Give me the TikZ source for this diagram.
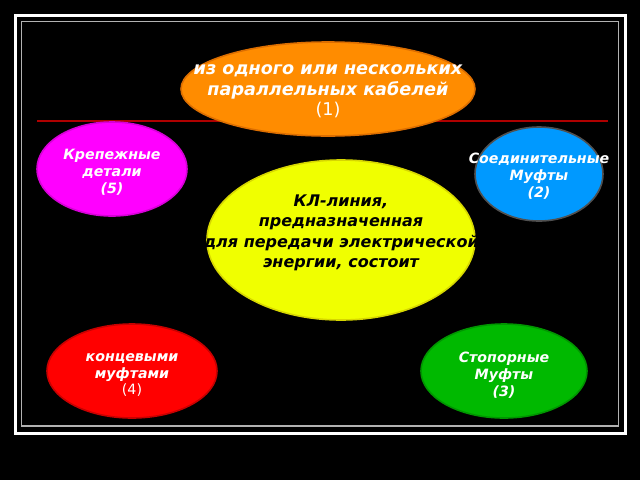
\documentclass[tikz,border=0pt]{standalone}
\usepackage{fontspec}
\setmainfont{DejaVu Sans}
\usetikzlibrary{shapes.geometric}
\definecolor{rulered}{RGB}{175,0,0}
\tikzset{
  blob/.style={ellipse, inner sep=0pt, line width=1.6pt},
  wtxt/.style={text=white, align=center, font=\bfseries\itshape\fontsize{14.2}{16.8}\selectfont},
  btxt/.style={text=black, align=center, font=\bfseries\itshape\fontsize{16}{20.5}\selectfont},
}
\newcommand{\plainnum}[1]{{\normalfont\mdseries\upshape #1}}
\begin{document}
\begin{tikzpicture}[x=1pt,y=-1pt]
\fill[black] (0,0) rectangle (640,480);
\useasboundingbox (0,0) rectangle (640,480);
% frame
\draw[white, line width=3pt] (15.5,15.5) rectangle (625.5,433);
\draw[gray!60!white, line width=1.5pt] (21.5,21.5) rectangle (618.5,426);
% red rule
\draw[draw=rulered, line width=1.2pt] (37,121) -- (608,121);

% ellipses
\node[blob, fill={rgb,255:red,255;green,140;blue,0}, draw={rgb,255:red,220;green,110;blue,0}, minimum width=294pt, minimum height=94pt] (orange) at (328,89) {};
\node[blob, fill={rgb,255:red,255;green,0;blue,255}, draw={rgb,255:red,215;green,0;blue,215}, minimum width=150pt, minimum height=94pt] (magenta) at (112,169) {};
\node[blob, fill={rgb,255:red,0;green,153;blue,255}, draw={rgb,255:red,80;green,80;blue,80}, minimum width=128pt, minimum height=94pt] (blue) at (539,174) {};
\node[blob, fill={rgb,255:red,240;green,255;blue,0}, draw={rgb,255:red,215;green,215;blue,0}, minimum width=268pt, minimum height=160pt] (yellow) at (341,240) {};
\node[blob, fill={rgb,255:red,255;green,0;blue,0}, draw={rgb,255:red,200;green,0;blue,0}, minimum width=170pt, minimum height=94pt] (redb) at (132,371) {};
\node[blob, fill={rgb,255:red,0;green,185;blue,0}, draw={rgb,255:red,0;green,150;blue,0}, minimum width=166pt, minimum height=94pt] (green) at (504,371) {};

% texts
\node[wtxt, font=\bfseries\itshape\fontsize{17.6}{20.5}\selectfont] (t1) at (328,91.5) {из одного или нескольких\\параллельных кабелей\\\plainnum{(1)}};
\node[wtxt] (t5) at (112,172) {Крепежные\\детали\\(5)};
\node[wtxt] (t2) at (539,176) {Соединительные\\Муфты\\(2)};
\node[btxt] (tc) at (341,233) {КЛ-линия,\\предназначенная\\для передачи электрической\\энергии, состоит};
\node[wtxt] (t4) at (132,375) {концевыми\\муфтами\\\plainnum{(4)}};
\node[wtxt] (t3) at (504,375) {Стопорные\\Муфты\\(3)};
\end{tikzpicture}
\end{document}
